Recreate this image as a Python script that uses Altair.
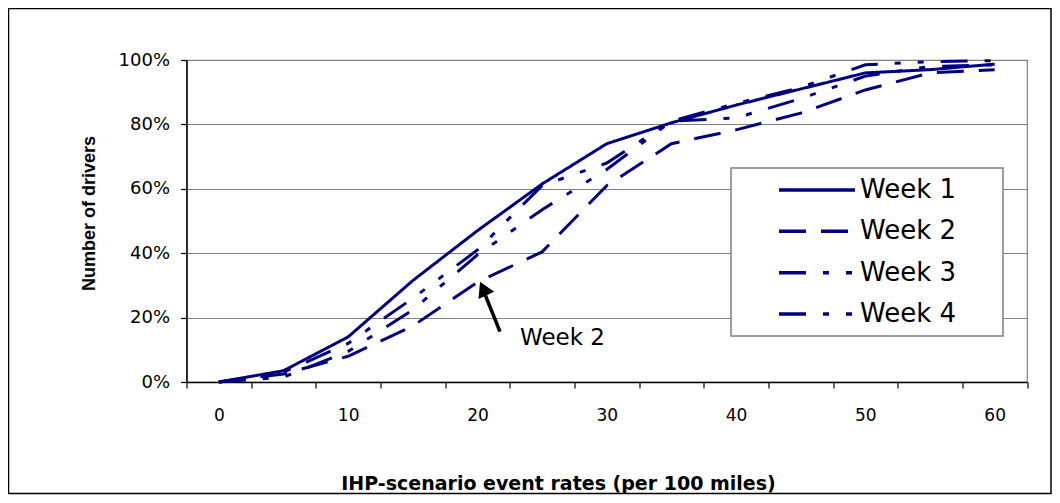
import altair as alt
import pandas as pd

# ---- data ----
rates = [0, 5, 10, 15, 20, 25, 30, 35, 40, 45, 50, 55, 60]
week1 = [0, 3.5, 14, 31.5, 47, 61.5, 74, 80.5, 86, 91, 96, 97, 98.7]
week2 = [0, 2.5, 8, 17.4, 31, 40.4, 61, 74, 78.3, 83.5, 90.7, 96, 97]
week3 = [0, 3, 12, 26, 41, 61, 68, 81, 86.5, 91.5, 98.5, 99.5, 99.8]
week4 = [0, 1.5, 9.5, 22.4, 39.5, 53.5, 66, 81, 82, 88, 95, 98, 98.5]
series_names = ["Week 1", "Week 2", "Week 3", "Week 4"]
x_label_values = [0, 10, 20, 30, 40, 50, 60]
y_tick_values = [0, 0.2, 0.4, 0.6, 0.8, 1.0]
annotation_text = ["Week 2"]

rows = []
for name, vals in zip(series_names, [week1, week2, week3, week4]):
    for r, v in zip(rates, vals):
        rows.append({"rate": r, "share": v / 100.0, "series": name})
df = pd.DataFrame(rows)
legend_df = pd.DataFrame({"series": series_names, "row": list(range(len(series_names)))})
one = pd.DataFrame({"a": [0]})
annot_df = pd.DataFrame({"label": annotation_text})

NAVY = "#000080"
dash_scale = alt.Scale(
    domain=series_names,
    range=[[1, 0], [27, 15], [27, 17, 6, 17, 6, 17], [27, 17, 6, 17, 6, 17]],
)

label_expr = "indexof([" + ",".join(str(v) for v in x_label_values) + "], datum.value) >= 0 ? datum.label : ''"

x_enc = alt.X(
    "rate:O",
    scale=alt.Scale(type="band", paddingInner=0, paddingOuter=0, domain=rates),
    bandPosition=0.5,
    axis=alt.Axis(
        title="IHP-scenario event rates (per 100 miles)",
        labelExpr=label_expr,
        labelAngle=0,
        tickBand="extent",
        tickSize=6,
        tickColor="black",
        tickWidth=1.2,
        domainColor="black",
        domainWidth=1.5,
        grid=False,
        labelFont="DejaVu Sans",
        labelFontSize=17,
        labelPadding=19,
        labelColor="black",
        labelFlush=False,
        labelOverlap=False,
        titleFont="DejaVu Sans",
        titleFontSize=19,
        titleFontWeight="bold",
        titleColor="black",
        titleX=371.5,
        titleY=107,
        titleBaseline="alphabetic",
        titleAlign="center",
    ),
)

y_enc = alt.Y(
    "share:Q",
    scale=alt.Scale(domain=[0, 1], nice=False),
    axis=alt.Axis(
        values=y_tick_values,
        format="%",
        grid=True,
        gridColor="#808080",
        gridWidth=1.2,
        domainColor="black",
        domainWidth=1.5,
        tickColor="black",
        tickSize=6,
        tickWidth=1.2,
        labelFont="DejaVu Sans",
        labelFontSize=18,
        labelPadding=11,
        labelColor="black",
        title="Number of drivers",
        titleFont="Liberation Sans",
        titleFontSize=18,
        titleFontWeight="bold",
        titleColor="black",
        titleAngle=270,
        titleX=-97.5,
        titleY=153,
        titleAlign="center",
        titleBaseline="middle",
    ),
)

frame = alt.Chart(one).mark_rect(fill="transparent", stroke="black", strokeWidth=1.5).encode(
    x=alt.value(-178), x2=alt.value(864.5), y=alt.value(-51.5), y2=alt.value(433.5)
)

lines = alt.Chart(df).mark_line(strokeWidth=3, color=NAVY).encode(
    x=x_enc,
    y=y_enc,
    strokeDash=alt.StrokeDash("series:N", scale=dash_scale, legend=None),
)

legend_box = alt.Chart(one).mark_rect(fill="white", stroke="#7f7f7f", strokeWidth=1.5).encode(
    x=alt.value(544.5), x2=alt.value(816.5), y=alt.value(108), y2=alt.value(276)
)

row_scale = alt.Scale(type="point", padding=0, range=[130, 254])

legend_rules = alt.Chart(legend_df).mark_rule(strokeWidth=3.5, color=NAVY).encode(
    x=alt.value(592.5),
    x2=alt.value(668.5),
    y=alt.Y("row:O", axis=None, scale=row_scale),
    strokeDash=alt.StrokeDash("series:N", scale=dash_scale, legend=None),
)

legend_text = alt.Chart(legend_df).mark_text(
    align="left", baseline="middle", font="DejaVu Sans", fontSize=26, color="black"
).encode(
    x=alt.value(673.5),
    y=alt.Y("row:O", axis=None, scale=row_scale),
    text="series:N",
)

annot = alt.Chart(annot_df).mark_text(
    align="left", baseline="alphabetic", font="DejaVu Sans", fontSize=23, color="black"
).encode(x=alt.value(333.5), y=alt.value(285), text="label:N")

shaft = alt.Chart(one).mark_rule(strokeWidth=3.5, color="black").encode(
    x=alt.value(313.5), y=alt.value(271.7), x2=alt.value(297.5), y2=alt.value(232)
)

head = alt.Chart(one).mark_point(
    shape="triangle-up", filled=True, size=300, angle=335, color="black", opacity=1
).encode(x=alt.value(296.7), y=alt.value(228.5))

chart = (
    alt.layer(frame, lines, legend_box, legend_rules, legend_text, annot, shaft, head)
    .resolve_scale(y="independent")
    .properties(
        width=840.5,
        height=322,
        autosize=alt.AutoSizeParams(type="none"),
        padding={"left": 178.5, "top": 52, "right": 25, "bottom": 113},
        background="white",
    )
    .configure_view(stroke="#808080", strokeWidth=1.2)
)

chart.save("out.html", embed_options={"renderer": "svg", "actions": False})
